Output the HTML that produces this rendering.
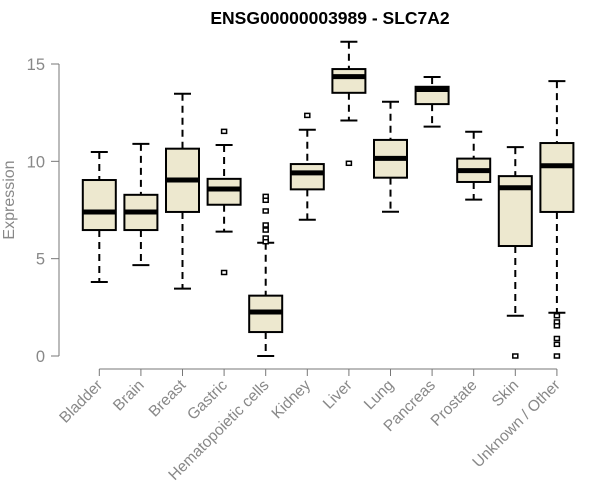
<!DOCTYPE html>
<html><head><meta charset="utf-8"><style>
body{margin:0;background:#fff}
svg{display:block;font-family:"Liberation Sans",Arial,sans-serif}
</style></head><body>
<svg id="chart" width="600" height="500">
<text x="330" y="24" text-anchor="middle" font-size="17.5" font-weight="bold">ENSG00000003989 - SLC7A2</text>
<text transform="translate(14,200) rotate(-90)" text-anchor="middle" font-size="16" fill="#888">Expression</text>
<g id="yaxis"></g>
<g id="xaxis"></g>
<g id="boxes"></g>
</svg>
<script>
const categories=["Bladder","Brain","Breast","Gastric","Hematopoietic cells","Kidney","Liver","Lung","Pancreas","Prostate","Skin","Unknown / Other"];
const whiskerLow=[3.8,4.67,3.46,6.39,0,7.0,12.1,7.41,11.78,8.03,2.07,2.22];
const q1=[6.47,6.47,7.4,7.77,1.23,8.56,13.52,9.16,12.94,8.94,5.65,7.4];
const medians=[7.4,7.4,9.04,8.58,2.26,9.41,14.35,10.15,13.69,9.52,8.64,9.77];
const q3=[9.04,8.28,10.65,9.1,3.1,9.86,14.74,11.1,13.83,10.14,9.24,10.94];
const whiskerHigh=[10.48,10.9,13.47,10.84,5.82,11.62,16.14,13.06,14.33,11.52,10.73,14.12];
const outliers=[[],[],[],[11.54,4.29],[8.2,8.0,7.45,6.73,6.47,6.06,5.87],[12.36],[9.9],[],[],[],[0],[2.07,1.75,1.55,0.9,0.6,0]];
const yTicks=[0,5,10,15];
const NS="http://www.w3.org/2000/svg";
function y(v){return 356-v*(292/15);}
function x(i){return 99.3+i*41.6;}
function mk(tag,attrs,parent){const e=document.createElementNS(NS,tag);for(const k in attrs)e.setAttribute(k,attrs[k]);parent.appendChild(e);return e;}
const ya=document.getElementById('yaxis'),xa=document.getElementById('xaxis'),bx=document.getElementById('boxes');
mk('line',{x1:59,x2:59,y1:y(15),y2:y(0),stroke:'#777','stroke-width':1},ya);
yTicks.forEach(t=>{
 const l=mk('line',{x1:51,x2:59,y1:y(t),y2:y(t),stroke:'#777'},ya);
 
 
 const tx=mk('text',{x:45,y:y(t)+6,'text-anchor':'end','font-size':16.5,fill:'#888'},ya);
 tx.textContent=t;
 
 
});
mk('line',{x1:x(0),x2:x(categories.length-1),y1:369,y2:369,stroke:'#777'},xa);
categories.forEach((c,i)=>{
 const cx=x(i);
 const tk=mk('line',{x1:cx,x2:cx,y1:369,y2:376,stroke:'#777'},xa);
 
 
 const tx=mk('text',{x:cx+4,y:386,'text-anchor':'end','font-size':15.5,fill:'#888',transform:`rotate(-45 ${cx+4} 386)`},xa);
 tx.textContent=c;
 
 
 const g=mk('g',{},bx);
 
 
 mk('line',{x1:cx,x2:cx,y1:y(whiskerHigh[i]),y2:y(q3[i]),stroke:'#000','stroke-width':2,'stroke-dasharray':'7,5'},g);
 mk('line',{x1:cx,x2:cx,y1:y(q1[i]),y2:y(whiskerLow[i]),stroke:'#000','stroke-width':2,'stroke-dasharray':'7,5'},g);
 mk('line',{x1:cx-8.5,x2:cx+8.5,y1:y(whiskerHigh[i]),y2:y(whiskerHigh[i]),stroke:'#000','stroke-width':2},g);
 mk('line',{x1:cx-8.5,x2:cx+8.5,y1:y(whiskerLow[i]),y2:y(whiskerLow[i]),stroke:'#000','stroke-width':2},g);
 mk('rect',{x:cx-16.5,y:y(q3[i]),width:33,height:y(q1[i])-y(q3[i]),fill:'#ede8cf',stroke:'#000','stroke-width':2},g);
 mk('line',{x1:cx-16.5,x2:cx+16.5,y1:y(medians[i]),y2:y(medians[i]),stroke:'#000','stroke-width':5},g);
 outliers[i].forEach(o=>{
  const p=mk('rect',{x:cx-2.5,y:y(o)-2,width:5,height:4,fill:'#fff',stroke:'#000','stroke-width':1.5},g);
  
  
 });
});
</script>
</body></html>
